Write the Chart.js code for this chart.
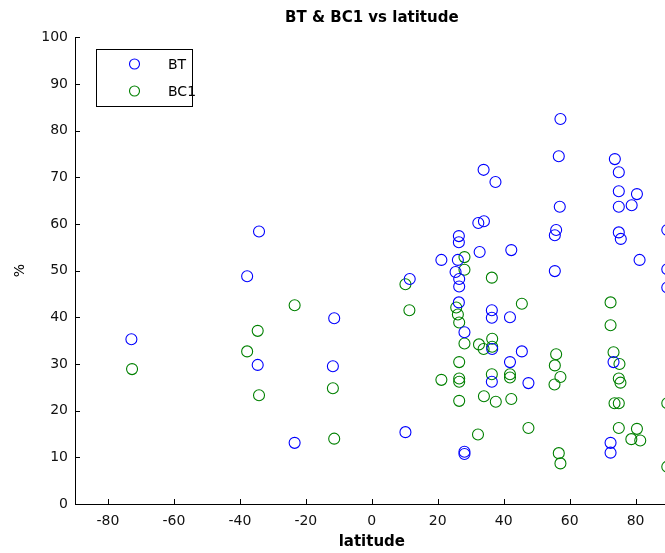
<!DOCTYPE html>
<html>
<head>
<meta charset="utf-8">
<script src="https://cdn.jsdelivr.net/npm/chart.js@4.4.1/dist/chart.umd.min.js"></script>
<style>
  html, body { margin: 0; padding: 0; overflow: hidden; background: #fff; }
  #wrap { width: 680px; height: 553px; }
</style>
</head>
<body>
<div id="wrap"><canvas id="chartLatitude" width="680" height="553"></canvas></div>
<script>
// dados
var latBT = [-72.9, -37.8, -34.2, -34.6, -11.4, -11.8, -23.4, 10.2, 11.5, 21.1, 25.4, 26.1, 26.4, 26.4, 26.5, 26.5, 26.4, 28.1, 28.1, 28.1,
  32.3, 34.0, 32.7, 33.9, 37.5, 36.4, 36.4, 36.5, 36.4, 41.9, 41.9, 42.3, 45.5, 47.5, 57.2, 56.7, 57.0, 55.9, 55.5, 55.5,
  73.7, 74.9, 74.9, 80.4, 78.8, 74.9, 74.9, 75.5, 81.2, 73.3, 72.4, 72.4, 89.6, 89.6, 89.6];
var valBT = [35.3, 48.8, 58.4, 29.8, 39.8, 29.5, 13.1, 15.4, 48.2, 52.3, 49.7, 52.3, 57.4, 56.1, 48.2, 46.6, 43.2, 36.8, 11.2, 10.7,
  60.2, 60.6, 54.0, 71.6, 69.0, 41.5, 39.9, 33.2, 26.2, 40.0, 30.4, 54.4, 32.7, 25.9, 82.5, 74.5, 63.7, 58.7, 57.6, 49.9,
  73.9, 71.1, 67.0, 66.4, 64.0, 63.7, 58.2, 56.8, 52.3, 30.4, 13.1, 11.0, 58.7, 50.3, 46.4];

var latBC1 = [-72.7, -37.8, -34.6, -34.2, -23.4, -11.8, -11.4, 10.2, 11.4, 21.1, 25.6, 26.1, 26.5, 26.5, 26.5, 26.5, 26.5, 28.1, 28.1, 28.1,
  32.5, 33.9, 34.0, 32.2, 36.4, 36.5, 36.5, 36.4, 37.6, 41.9, 41.9, 42.3, 45.5, 47.5, 72.4, 72.4, 73.3, 75.1, 74.9, 75.4,
  73.6, 74.9, 74.9, 80.4, 78.7, 81.4, 55.9, 55.5, 57.2, 55.4, 56.7, 57.2, 89.6, 89.6];
var valBC1 = [28.9, 32.7, 37.1, 23.3, 42.6, 24.8, 14.0, 47.1, 41.5, 26.6, 42.1, 40.6, 38.9, 30.4, 26.9, 26.2, 22.1, 52.9, 50.2, 34.4,
  34.2, 33.2, 23.1, 14.9, 48.5, 35.4, 33.7, 27.8, 21.9, 27.8, 27.1, 22.5, 42.9, 16.3, 43.2, 38.3, 32.5, 30.0, 26.9, 26.0,
  21.6, 21.6, 16.3, 16.1, 13.9, 13.6, 32.1, 29.7, 27.2, 25.6, 10.9, 8.7, 21.6, 8.0];

var xTicks = [-80, -60, -40, -20, 0, 20, 40, 60, 80];
var yTicks = [0, 10, 20, 30, 40, 50, 60, 70, 80, 90, 100];

function pontos(lats, vals) {
  return lats.map((lat, i) => ({ x: lat, y: vals[i] }));
}

// ticks pra dentro, estilo matlab
const ticksDentro = {
  id: "ticksDentro",
  afterDraw(chart) {
    const ctx = chart.ctx;
    const area = chart.chartArea;
    const sx = chart.scales.x;
    const sy = chart.scales.y;
    ctx.save();
    ctx.strokeStyle = "#000";
    ctx.lineWidth = 1;
    ctx.beginPath();
    sx.ticks.forEach((t) => {
      const px = Math.round(sx.getPixelForValue(t.value)) + 0.5;
      ctx.moveTo(px, area.bottom);
      ctx.lineTo(px, area.bottom - 5);
    });
    sy.ticks.forEach((t) => {
      const py = Math.round(sy.getPixelForValue(t.value)) + 0.5;
      ctx.moveTo(area.left, py);
      ctx.lineTo(area.left + 5, py);
    });
    ctx.stroke();
    ctx.restore();
  },
};

// legenda com caixa dentro do grafico
const legendaCaixa = {
  id: "legendaCaixa",
  afterDraw(chart) {
    const ctx = chart.ctx;
    ctx.save();
    ctx.fillStyle = "#fff";
    ctx.fillRect(96.5, 49.5, 96, 57);
    ctx.strokeStyle = "#000";
    ctx.lineWidth = 1;
    ctx.strokeRect(96.5, 49.5, 96, 57);
    ctx.font = "14px 'DejaVu Sans'";
    ctx.textBaseline = "middle";
    chart.data.datasets.forEach((ds, i) => {
      const y = 64 + i * 27;
      ctx.beginPath();
      ctx.strokeStyle = ds.borderColor;
      ctx.lineWidth = 1.1;
      ctx.arc(134.5, y, 5, 0, Math.PI * 2);
      ctx.stroke();
      ctx.fillStyle = "#000";
      ctx.fillText(ds.label, 168, y + 1);
    });
    ctx.restore();
  },
};

const chartLat = new Chart(document.getElementById("chartLatitude"), {
  type: "scatter",
  data: {
    datasets: [
      {
        label: "BT",
        data: pontos(latBT, valBT),
        borderColor: "#0000ff",
        backgroundColor: "rgba(0,0,0,0)",
        pointRadius: 5.5,
        pointBorderWidth: 1.1,
      },
      {
        label: "BC1",
        data: pontos(latBC1, valBC1),
        borderColor: "#008000",
        backgroundColor: "rgba(0,0,0,0)",
        pointRadius: 5.5,
        pointBorderWidth: 1.1,
      },
    ],
  },
  options: {
    responsive: false,
    animation: false,
    events: [],
    layout: { padding: { left: 0, right: 11.4, top: 0, bottom: 0 } },
    plugins: {
      legend: { display: false },
      tooltip: { enabled: false },
      title: {
        display: true,
        fullSize: false,
        text: "BT & BC1 vs latitude",
        color: "#000",
        font: { family: "'DejaVu Sans'", size: 15, weight: "bold", lineHeight: 1.2 },
        padding: { top: 9.5, bottom: 9.8 },
      },
    },
    scales: {
      x: {
        type: "linear",
        min: -90,
        max: 90,
        afterBuildTicks: (scale) => {
          scale.ticks = xTicks.map((v) => ({ value: v }));
        },
        afterFit: (scale) => {
          scale.height = 49;
        },
        grid: { display: false, drawTicks: false },
        border: { display: true, color: "#000", width: 1 },
        ticks: {
          color: "#111",
          padding: 9,
          maxRotation: 0,
          font: { family: "'DejaVu Sans'", size: 14 },
        },
        title: {
          display: true,
          text: "latitude",
          color: "#000",
          font: { family: "'DejaVu Sans'", size: 15, weight: "bold", lineHeight: 1.2 },
          padding: { top: 0, bottom: 2 },
        },
      },
      y: {
        type: "linear",
        min: 0,
        max: 100,
        afterBuildTicks: (scale) => {
          scale.ticks = yTicks.map((v) => ({ value: v }));
        },
        afterFit: (scale) => {
          scale.width = 75;
        },
        grid: { display: false, drawTicks: false },
        border: { display: true, color: "#000", width: 1 },
        ticks: {
          color: "#111",
          padding: 7,
          font: { family: "'DejaVu Sans'", size: 14 },
        },
        title: {
          display: true,
          text: "%",
          color: "#000",
          font: { family: "'DejaVu Sans'", size: 14, lineHeight: 1.2 },
          padding: { top: 11.6, bottom: 0 },
        },
      },
    },
  },
  plugins: [ticksDentro, legendaCaixa],
});
</script>
</body>
</html>
